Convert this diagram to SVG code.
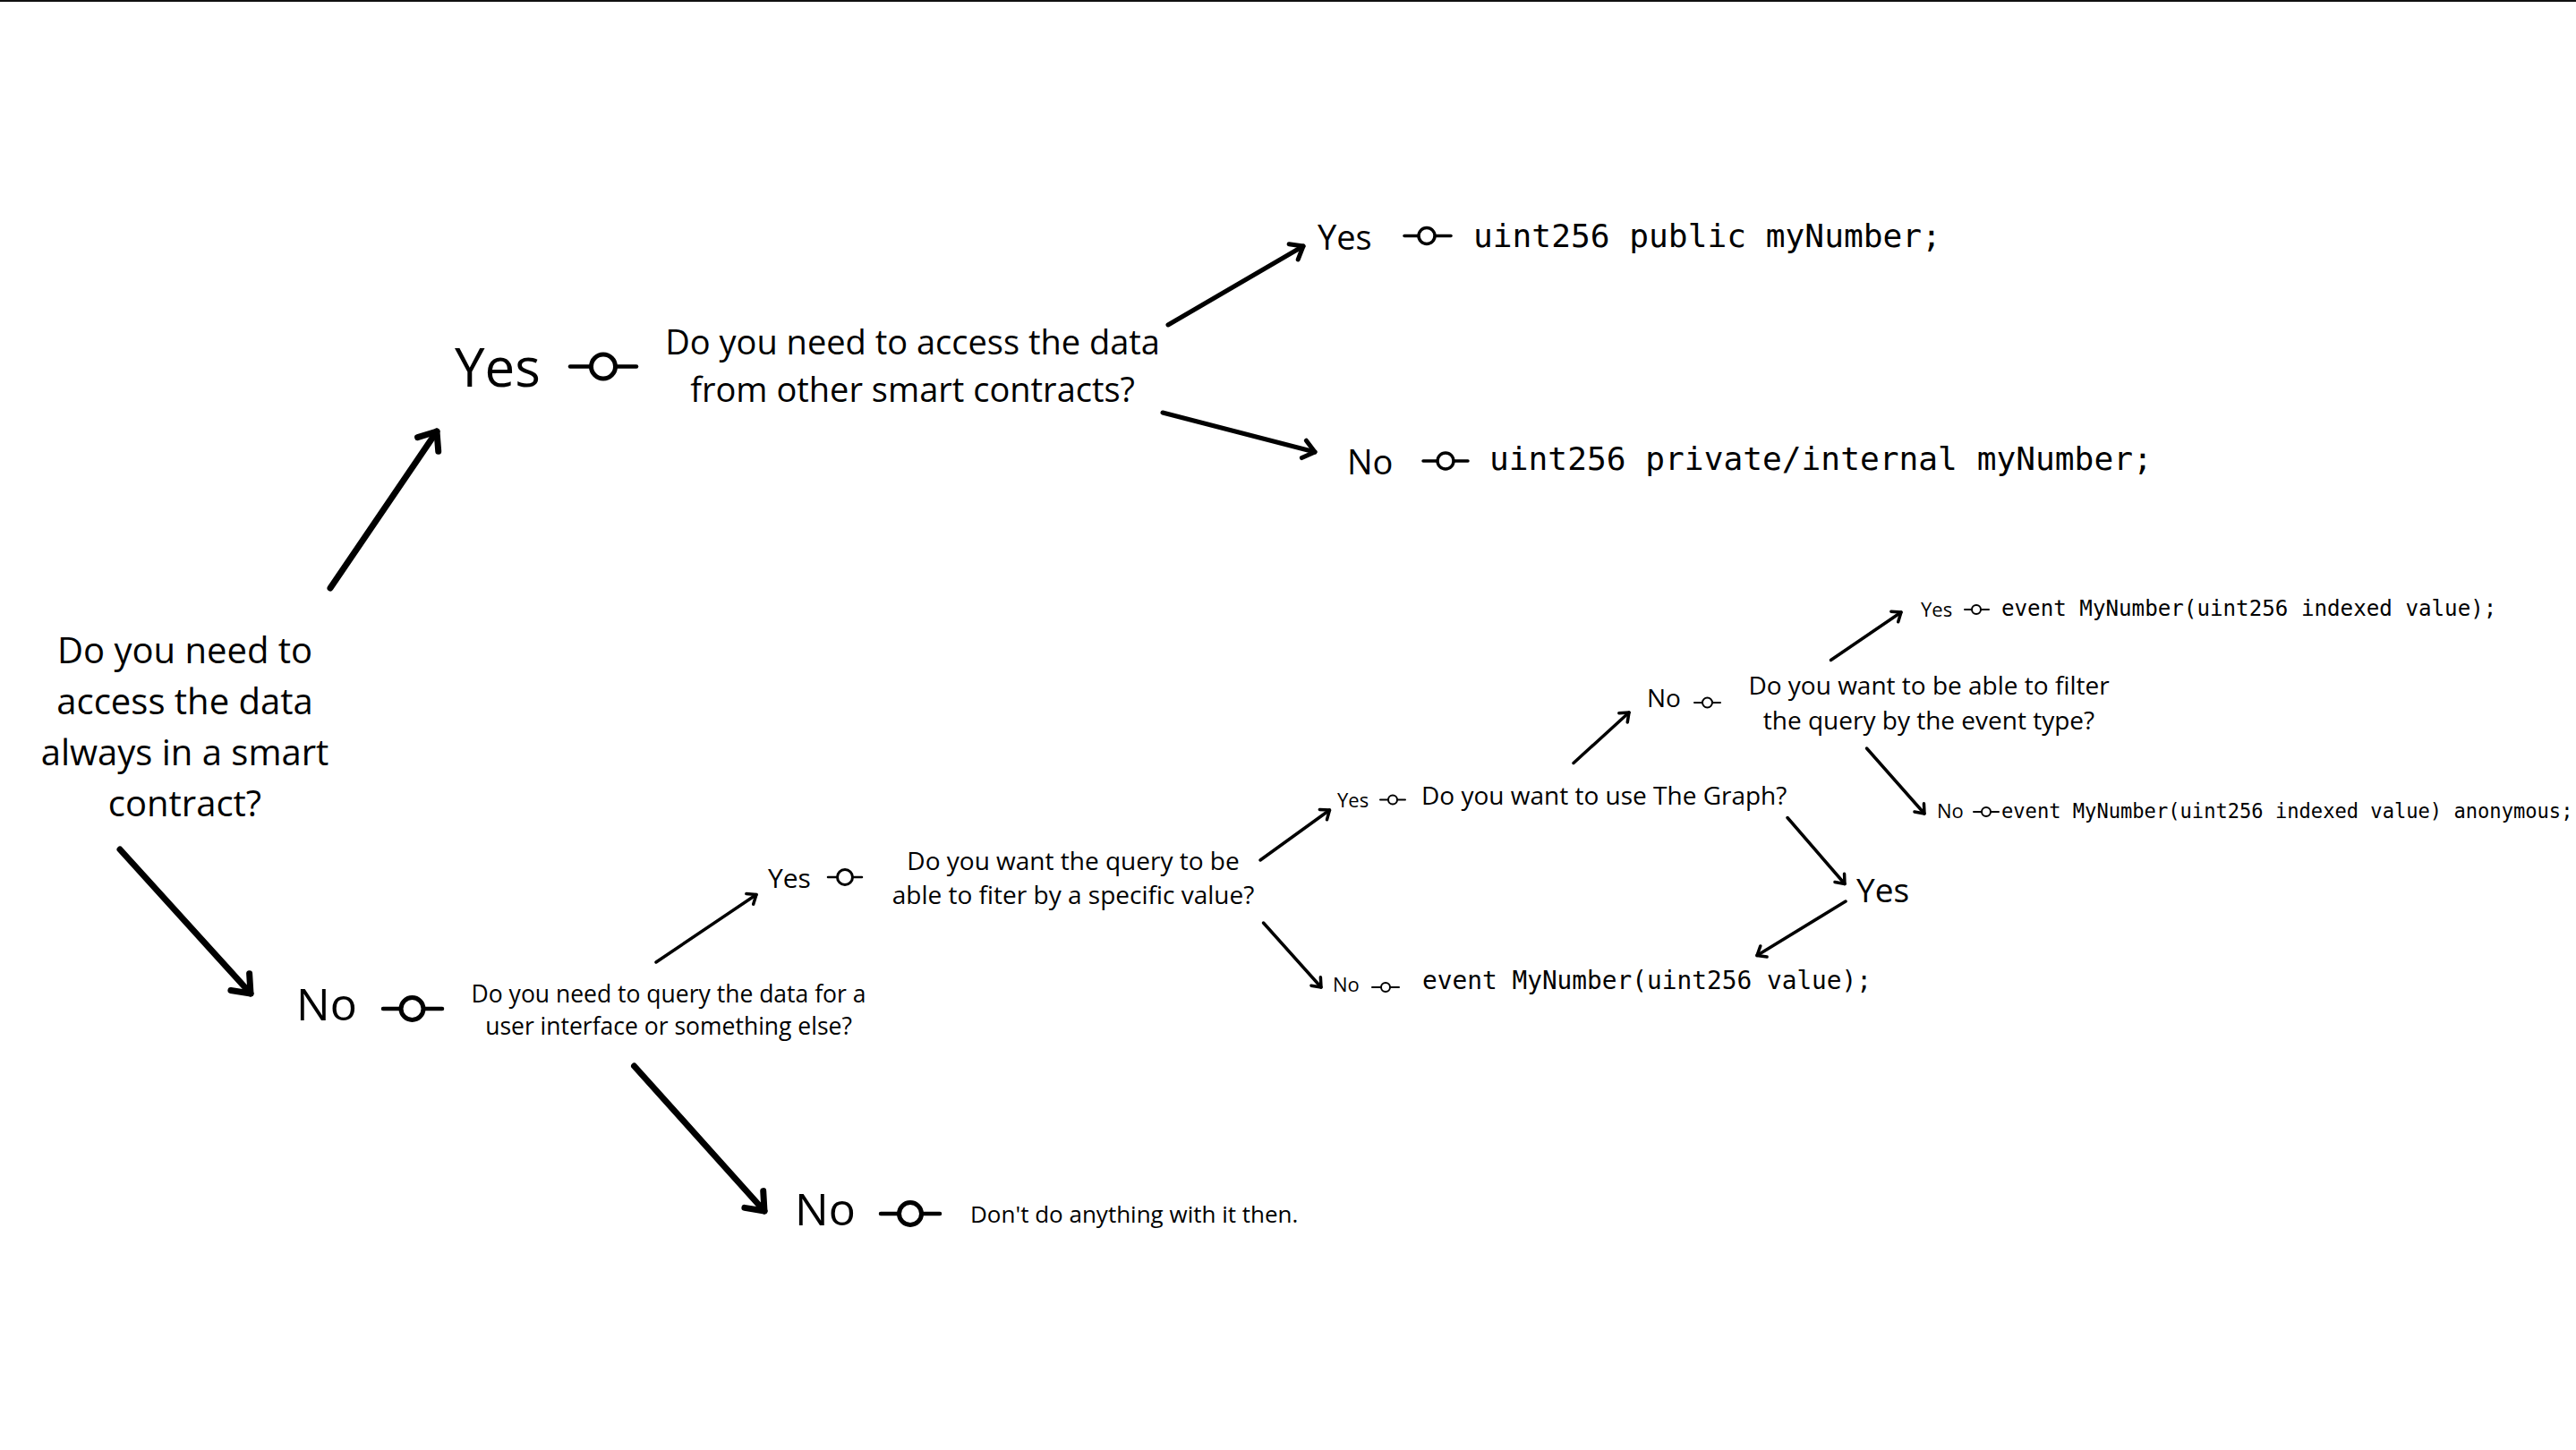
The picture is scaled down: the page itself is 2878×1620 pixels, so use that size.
<svg xmlns="http://www.w3.org/2000/svg" width="2878" height="1620" viewBox="0 0 2878 1620">
<style>
.t{font-family:"Open Sans","Noto Sans",sans-serif;fill:#000}
.m{font-family:"DejaVu Sans Mono","Liberation Mono",monospace;fill:#000}
.c{text-anchor:middle}
.ln{stroke:#000;fill:none;stroke-linecap:round;marker-end:url(#ah)}
.w7{stroke-width:7}
.w5{stroke-width:5}
.w3{stroke-width:3.5}
.sym line{stroke:#000;stroke-linecap:round}
.sym circle{fill:#fff;stroke:#000}
.s1 line{stroke-width:4.5}
.s1 circle{stroke-width:5}
.s2 line{stroke-width:3.5}
.s2 circle{stroke-width:3.5}
.s3 line{stroke-width:2.5}
.s3 circle{stroke-width:3}
.s4 line{stroke-width:2}
.s4 circle{stroke-width:2}
</style>
<defs>
<marker id="ah" viewBox="-4 -3 5 6" refX="0" refY="0" markerWidth="5" markerHeight="6" orient="auto" markerUnits="strokeWidth" overflow="visible">
<path d="M-2.5,-2 L0,0 L-2.5,2" fill="none" stroke="#000" stroke-width="1" stroke-linecap="round" stroke-linejoin="round"/>
</marker>
</defs>
<rect width="2878" height="1620" fill="#fff"/>
<rect x="0" y="0" width="2878" height="2" fill="#111"/>

<g id="connectors">
<line class="ln w7" x1="369" y1="657" x2="488" y2="482"/>
<line class="ln w7" x1="134" y1="949" x2="280" y2="1110"/>
<line class="ln w5" x1="1305" y1="363" x2="1456" y2="275"/>
<line class="ln w5" x1="1299" y1="461" x2="1469" y2="505"/>
<line class="ln w3" x1="733" y1="1075" x2="845" y2="999.5"/>
<line class="ln w7" x1="708.5" y1="1191" x2="854" y2="1353"/>
<line class="ln w3" x1="1408" y1="961" x2="1485.5" y2="905"/>
<line class="ln w3" x1="1411.5" y1="1031" x2="1476" y2="1103"/>
<line class="ln w3" x1="1758" y1="852.5" x2="1820" y2="796"/>
<line class="ln w3" x1="1997" y1="913.5" x2="2061" y2="987.5"/>
<line class="ln w3" x1="2045.5" y1="737.5" x2="2124" y2="684"/>
<line class="ln w3" x1="2085.5" y1="836" x2="2150" y2="909"/>
<line class="ln w3" x1="2062" y1="1007" x2="1963" y2="1067.5"/>
</g>

<g id="q-main">
<text class="t c" font-size="40" x="206.5" y="741">Do you need to</text>
<text class="t c" font-size="40" x="206.5" y="798">access the data</text>
<text class="t c" font-size="40" x="206.5" y="855">always in a smart</text>
<text class="t c" font-size="40" x="206.5" y="912">contract?</text>
</g>

<g id="yes-1">
<text class="t" font-size="60" x="508" y="432">Yes</text>
<g class="sym s1"><line x1="637" y1="409.5" x2="711" y2="409.5"/><circle cx="674" cy="409.5" r="13.5"/></g>
</g>

<g id="q-contracts">
<text class="t c" font-size="38" x="1019.6" y="396">Do you need to access the data</text>
<text class="t c" font-size="38" x="1019.6" y="449">from other smart contracts?</text>
</g>

<g id="yes-public">
<text class="t" font-size="38" x="1472" y="279">Yes</text>
<g class="sym s2"><line x1="1569" y1="263.5" x2="1621" y2="263.5"/><circle cx="1594" cy="263.5" r="9"/></g>
<text class="m" font-size="36.2" x="1646" y="276">uint256 public myNumber;</text>
</g>

<g id="no-private">
<text class="t" font-size="38" x="1505" y="530">No</text>
<g class="sym s2"><line x1="1590" y1="515" x2="1640" y2="515"/><circle cx="1615" cy="515" r="9"/></g>
<text class="m" font-size="36.2" x="1664" y="525">uint256 private/internal myNumber;</text>
</g>

<g id="no-1">
<text class="t" font-size="50" x="331" y="1140">No</text>
<g class="sym s1"><line x1="428" y1="1127" x2="494" y2="1127"/><circle cx="460.5" cy="1127" r="12.5"/></g>
</g>

<g id="q-query">
<text class="t c" font-size="26.5" x="747" y="1120">Do you need to query the data for a</text>
<text class="t c" font-size="26.5" x="747" y="1156">user interface or something else?</text>
</g>

<g id="yes-2">
<text class="t" font-size="30" x="858" y="992">Yes</text>
<g class="sym s3"><line x1="925" y1="980" x2="963" y2="980"/><circle cx="944" cy="980" r="8.5"/></g>
</g>

<g id="no-2">
<text class="t" font-size="50" x="888" y="1369">No</text>
<g class="sym s1"><line x1="984" y1="1356" x2="1050" y2="1356"/><circle cx="1017" cy="1356" r="12.5"/></g>
<text class="t" font-size="26" x="1084" y="1366">Don't do anything with it then.</text>
</g>

<g id="q-filter-value">
<text class="t c" font-size="28" x="1199" y="972">Do you want the query to be</text>
<text class="t c" font-size="28" x="1199" y="1010">able to fiter by a specific value?</text>
</g>

<g id="yes-graph">
<text class="t" font-size="22" x="1494" y="901.5">Yes</text>
<g class="sym s4"><line x1="1542" y1="893.5" x2="1570" y2="893.5"/><circle cx="1556" cy="893.5" r="5"/></g>
<text class="t" font-size="28" x="1588" y="899">Do you want to use The Graph?</text>
</g>

<g id="no-value">
<text class="t" font-size="22" x="1489" y="1108">No</text>
<g class="sym s4"><line x1="1533" y1="1103" x2="1563" y2="1103"/><circle cx="1548" cy="1103" r="5"/></g>
<text class="m" font-size="27.8" x="1589" y="1105">event MyNumber(uint256 value);</text>
</g>

<g id="no-graph">
<text class="t" font-size="28" x="1840" y="790">No</text>
<g class="sym s4"><line x1="1893" y1="785" x2="1922" y2="785"/><circle cx="1907.5" cy="785" r="5.5"/></g>
</g>

<g id="q-event-type">
<text class="t c" font-size="28" x="2155" y="776">Do you want to be able to filter</text>
<text class="t c" font-size="28" x="2155" y="815">the query by the event type?</text>
</g>

<g id="yes-indexed">
<text class="t" font-size="22" x="2146" y="689">Yes</text>
<g class="sym s4"><line x1="2195" y1="681" x2="2222" y2="681"/><circle cx="2208" cy="681" r="5"/></g>
<text class="m" font-size="24.2" x="2236" y="688">event MyNumber(uint256 indexed value);</text>
</g>

<g id="no-anonymous">
<text class="t" font-size="22" x="2164" y="914">No</text>
<g class="sym s4"><line x1="2205" y1="907" x2="2233" y2="907"/><circle cx="2219" cy="907" r="5"/></g>
<text class="m" font-size="22.1" x="2236" y="914">event MyNumber(uint256 indexed value) anonymous;</text>
</g>

<g id="yes-graph-yes">
<text class="t" font-size="37" x="2074" y="1008">Yes</text>
</g>
</svg>
